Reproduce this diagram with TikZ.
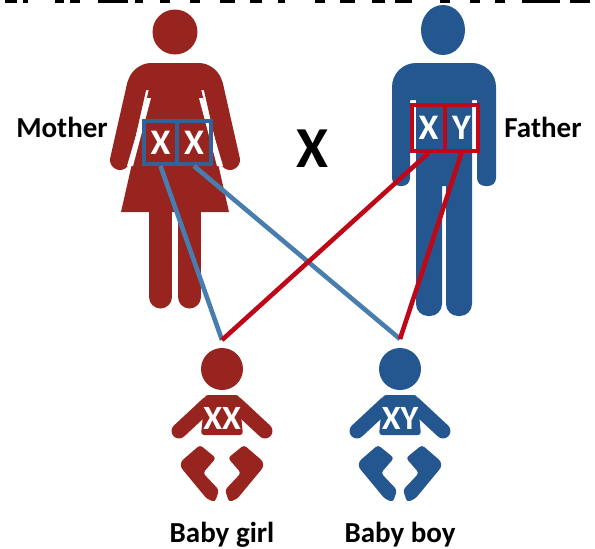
\documentclass[tikz,border=0pt]{standalone}
\usepackage{fontspec}
\setmainfont{Carlito}
\usetikzlibrary{positioning}
\definecolor{girlred}{RGB}{152,36,32}
\definecolor{boyblue}{RGB}{36,86,143}
\definecolor{boxblue}{RGB}{52,98,150}
\definecolor{linkblue}{RGB}{72,125,175}
\definecolor{linkred}{RGB}{190,8,24}

\begin{document}
\begin{tikzpicture}[
  x=1pt, y=-1pt,
  font=\bfseries,
  chromo/.style={
    line width=4pt, text=white, inner sep=0pt,
    minimum width=33.5pt, font=\bfseries\fontsize{36}{36}\selectfont
  },
  tag/.style={text=black, inner sep=0pt, font=\bfseries\fontsize{29}{29}\selectfont},
  link/.style={line width=4.6pt},
]
\useasboundingbox (0,0) rectangle (595,549);

% ---- Cut-off strip at the top edge ----
\foreach \a/\b in {5/17, 23/28, 55/64, 70/80, 98/128, 135/143, 160/170, 190/200, 220/235, 250/262,
                   278/285, 315/325, 340/355, 372/385, 395/412, 440/450, 470/480, 495/505, 522/560, 570/590}
  \fill[black] (\a,0) rectangle (\b,2.5);

% ---- Mother ----
\fill[girlred] (175,32) circle (22.5);
\fill[girlred] (126,90) [rounded corners=19pt] -- (132,63) -- (218,63) [sharp corners] -- (224,90) -- cycle;
\fill[girlred] (151,80) -- (199,80) -- (229,212) -- (121,212) -- cycle;
\foreach \ax/\bx in {137/120, 213/230}
  \draw[girlred, line width=20pt, line cap=round] (\ax,85) -- (\bx,160);
\fill[white] (147,98) -- (151,98) -- (133,166) -- (127,166) -- cycle;
\fill[white] (203,98) -- (199,98) -- (217,166) -- (223,166) -- cycle;
\foreach \lx in {160.5, 189.5}
  \draw[girlred, line width=23pt, line cap=round] (\lx,205) -- (\lx,297);

% ---- Father ----
\fill[boyblue] (443,30) ellipse (22 and 25);
\fill[boyblue] (416,100) -- (410,100) [rounded corners=8pt] -- (410,186) -- (392,186)
  [rounded corners=24pt] -- (392,63) -- (496,63) [rounded corners=8pt] -- (496,186) -- (477,186)
  [sharp corners] -- (477,100) -- (472,100) [rounded corners=12pt] -- (472,316) -- (446,316)
  [sharp corners] -- (446,186) -- (442,186) [rounded corners=12pt] -- (442,316) -- (416,316)
  [sharp corners] -- cycle;

% ---- Babies ----
\foreach \cx/\col/\kid/\gene in {222/girlred/girl/XX, 400/boyblue/boy/XY} {
  \begin{scope}[shift={(\cx,0)}, \col, fill=\col]
    \fill (0,369) circle (21);
    \fill[rounded corners=3pt] (-17,395) -- (17,395) -- (21,435) -- (-21,435) -- cycle;
    \foreach \s in {-1,1} {
      \draw[line width=15pt, line cap=round] (\s*14,404) -- (\s*43,431);
      \fill[rounded corners=3pt] (\s*22,445) -- (\s*6,458) -- (\s*19,473) -- (\s*3,490)
        -- (\s*7,502) -- (\s*15,499) [rounded corners=7pt] -- (\s*44,464) [rounded corners=3pt] -- cycle;
    }
  \end{scope}
  \node[text=white, inner sep=0pt, font=\bfseries\fontsize{34}{34}\selectfont] (gene\kid) at (\cx,418) {\gene};
}
\coordinate (topgirl) at (222,340);
\coordinate (topboy) at (400,339);

% ---- Chromosome boxes ----
\node[chromo, draw=boxblue, minimum height=43pt] (mx1) at (160.5,142.5) {X};
\node[chromo, draw=boxblue, minimum height=43pt] (mx2) at (194,142.5) {X};
\node[chromo, draw=linkred, minimum height=46pt] (fx) at (428.5,128) {X};
\node[chromo, draw=linkred, minimum height=46pt] (fy) at (461.5,128) {Y};

% ---- Labels ----
\node[tag] (mother) at (62,127) {Mother};
\node[tag] (father) at (543,127) {Father};
\node[text=black, inner sep=0pt, font=\bfseries\fontsize{58}{58}\selectfont] (cross) at (312,149) {X};
\node[tag] (girl) at (222,535) {Baby girl};
\node[tag] (boy) at (400,535) {Baby boy};

% ---- Links ----
\foreach \p/\c in {mx1/topgirl, mx2/topboy}
  \draw[link, linkblue] (\p.south) -- (\c);
\foreach \p/\c in {fx/topgirl, fy/topboy}
  \draw[link, linkred] (\p.south) -- (\c);

\end{tikzpicture}
\end{document}
